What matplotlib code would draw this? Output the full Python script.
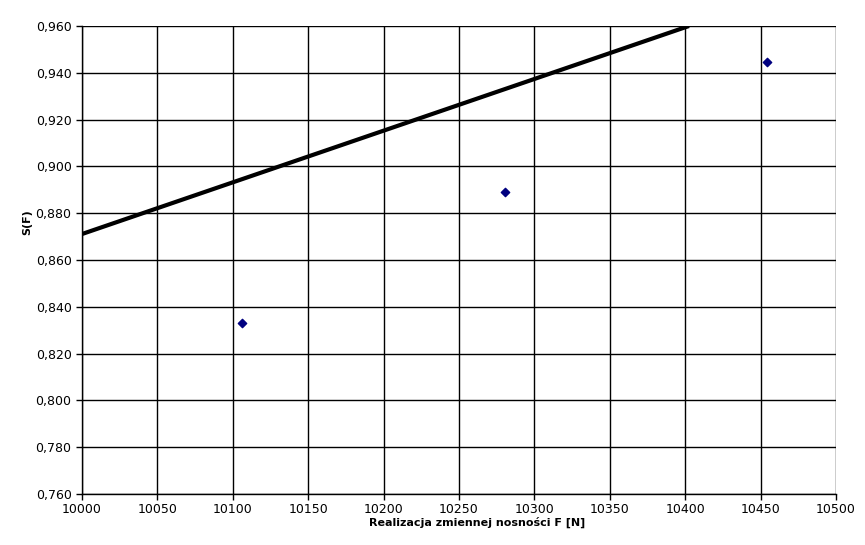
import matplotlib.pyplot as plt
from matplotlib.ticker import FuncFormatter, MultipleLocator

# measured points
f_vals = [10106, 10280.5, 10454.5]
s_vals = [0.8331, 0.8891, 0.9446]

# fitted line end points
line_f = [10000, 10402.5]
line_s = [0.8711, 0.960]

fig = plt.figure(figsize=(8.65, 5.45), dpi=100)
ax = fig.add_axes([82 / 865, 51 / 545, 754 / 865, 468 / 545])

ax.plot(line_f, line_s, color="black", linewidth=3, solid_capstyle="butt", zorder=3)
ax.scatter(f_vals, s_vals, marker="D", s=18, color="#000080", zorder=4)

ax.set_xlim(10000, 10500)
ax.set_ylim(0.76, 0.96)
ax.xaxis.set_major_locator(MultipleLocator(50))
ax.yaxis.set_major_locator(MultipleLocator(0.02))
ax.yaxis.set_major_formatter(FuncFormatter(lambda v, p: f"{v:.3f}".replace(".", ",")))
ax.xaxis.set_major_formatter(FuncFormatter(lambda v, p: f"{v:.0f}"))

ax.grid(True, color="black", linewidth=1)
ax.set_axisbelow(True)
for side in ["top", "right"]:
    ax.spines[side].set_visible(False)
for side in ["left", "bottom"]:
    ax.spines[side].set_linewidth(1)
ax.tick_params(direction="out", length=4, width=1, labelsize=9, colors="black")
ax.tick_params(axis="x", pad=2.5)

fig.text(477 / 865, 1 - 522 / 545, "Realizacja zmiennej nosności F [N]",
         ha="center", va="center", fontsize=8, fontweight="bold")
fig.text(27 / 865, 1 - 222 / 545, "S(F)", ha="center", va="center",
         rotation=90, fontsize=8, fontweight="bold")

fig.savefig("out.png", dpi=100)
